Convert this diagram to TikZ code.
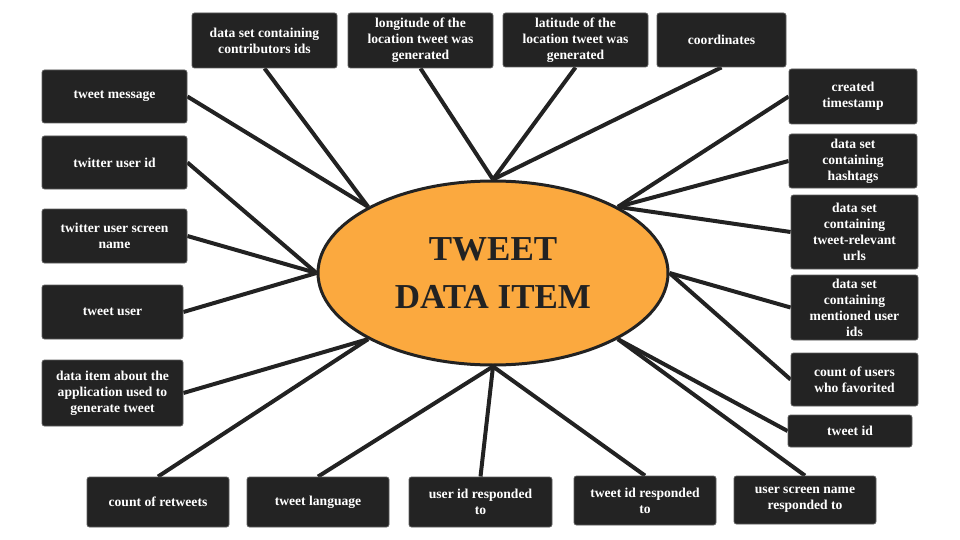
\documentclass[tikz,border=0pt]{standalone}
\usepackage{fontspec}
\setmainfont{Liberation Serif}
\usetikzlibrary{backgrounds,shapes.geometric}
\definecolor{ink}{HTML}{222222}
\definecolor{boxfill}{HTML}{232323}
\definecolor{boxedge}{HTML}{5E5E5E}
\definecolor{hub}{HTML}{FBA93F}
\tikzset{
  infobox/.style={draw=boxedge, fill=boxfill, line width=0.8pt, rounded corners=2.5pt,
    text=white, align=center, inner sep=0pt,
    font=\bfseries\fontsize{13.6}{16}\selectfont},
  hubnode/.style={ellipse, draw=ink, fill=hub, line width=3pt, align=center,
    minimum width=350pt, minimum height=184pt, inner sep=0pt, text=ink,
    font=\bfseries\fontsize{35}{48}\selectfont},
  link/.style={draw=ink, line width=4pt}
}
\begin{document}
\begin{tikzpicture}[x=1pt, y=-1pt]
\useasboundingbox (0,0) rectangle (960,540);

% central item
\node[hubnode] (e) at (493,273) {TWEET\\DATA ITEM};

% left column
\node[infobox, minimum width=145pt, minimum height=53pt] (msg) at (114.5,96.5) {tweet message};
\node[infobox, minimum width=145pt, minimum height=53pt] (uid) at (114.5,162.5) {twitter user id};
\node[infobox, minimum width=145pt, minimum height=54pt] (sname) at (114.5,236) {twitter user screen\\name};
\node[infobox, minimum width=141pt, minimum height=54pt] (tuser) at (112.5,312) {tweet user};
\node[infobox, minimum width=141pt, minimum height=66pt] (app) at (112.5,393) {data item about the\\application used to\\generate tweet};

% top row
\node[infobox, minimum width=145pt, minimum height=55pt] (contrib) at (264.5,40.5) {data set containing\\contributors ids};
\node[infobox, minimum width=145pt, minimum height=55pt] (lon) at (420.5,40.5) {longitude of the\\location tweet was\\generated};
\node[infobox, minimum width=145pt, minimum height=54pt] (lat) at (575.5,40) {latitude of the\\location tweet was\\generated};
\node[infobox, minimum width=129pt, minimum height=54pt] (coord) at (721.5,40) {coordinates};

% right column
\node[infobox, minimum width=128pt, minimum height=55pt] (created) at (853,96.5) {created\\timestamp};
\node[infobox, minimum width=128pt, minimum height=54pt] (hash) at (853,161) {data set\\containing\\hashtags};
\node[infobox, minimum width=127pt, minimum height=74pt] (urls) at (854.5,232) {data set\\containing\\tweet-relevant\\urls};
\node[infobox, minimum width=127pt, minimum height=65pt] (ment) at (854.5,307.5) {data set\\containing\\mentioned user\\ids};
\node[infobox, minimum width=127pt, minimum height=53pt] (fav) at (854.5,379.5) {count of users\\who favorited};
\node[infobox, minimum width=124pt, minimum height=32pt] (tid) at (850,431) {tweet id};

% bottom row
\node[infobox, minimum width=142pt, minimum height=50pt] (rt) at (158,502) {count of retweets};
\node[infobox, minimum width=142pt, minimum height=50pt] (lang) at (318,502) {tweet language};
\node[infobox, minimum width=143pt, minimum height=50pt] (ruid) at (480.5,502) {user id responded\\to};
\node[infobox, minimum width=142pt, minimum height=49pt] (rtid) at (645,500.5) {tweet id responded\\to};
\node[infobox, minimum width=142pt, minimum height=48pt] (rname) at (805,500) {user screen name\\responded to};

% spokes from the boxes to the central item
\begin{scope}[on background layer]
  \draw[link] (msg.east) -- (e.north west);
  \draw[link] (contrib.south) -- (e.north west);
  \draw[link] (lon.south) -- (e.north);
  \draw[link] (lat.south) -- (e.north);
  \draw[link] (coord.south) -- (e.north);
  \draw[link] (uid.east) -- (e.west);
  \draw[link] (sname.east) -- (e.west);
  \draw[link] (tuser.east) -- (e.west);
  \draw[link] (app.east) -- (e.south west);
  \draw[link] (rt.north) -- (e.south west);
  \draw[link] (lang.north) -- (e.south);
  \draw[link] (ruid.north) -- (e.south);
  \draw[link] (rtid.north) -- (e.south);
  \draw[link] (rname.north) -- (e.south east);
  \draw[link] (tid.west) -- (e.south east);
  \draw[link] (ment.west) -- (e.east);
  \draw[link] (fav.west) -- (e.east);
  \draw[link] (created.west) -- (e.north east);
  \draw[link] (hash.west) -- (e.north east);
  \draw[link] (urls.west) -- (e.north east);
\end{scope}
\end{tikzpicture}
\end{document}
